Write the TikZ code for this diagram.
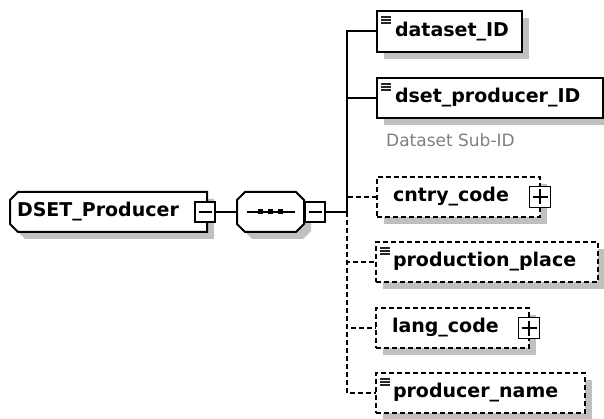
\documentclass[tikz,border=0pt]{standalone}
\usepackage{fontspec}
\setmainfont{DejaVu Sans}
\usepackage{xcolor}
\usepackage{tikz}
\usetikzlibrary{positioning,shadows,backgrounds}

\definecolor{shadowgray}{RGB}{192,192,192}
\definecolor{notegray}{RGB}{128,128,128}

% outline with cut corners: node, left cut, right cut
\newcommand{\tagoutline}[3]{%
  ([xshift=#2]#1.north west) -- ([xshift=-#3]#1.north east)
  -- ([yshift=-#3]#1.north east) -- ([yshift=#3]#1.south east)
  -- ([xshift=-#3]#1.south east) -- ([xshift=#2]#1.south west)
  -- ([yshift=#2]#1.south west) -- ([yshift=-#2]#1.north west) -- cycle}

\tikzset{
  boxshadow/.style={drop shadow={shadow xshift=7pt, shadow yshift=-7pt,
    fill=shadowgray, opacity=1}},
  elem/.style={draw, fill=white, line width=2pt, minimum height=40pt,
    inner ysep=0pt, align=left, anchor=west, outer sep=0pt,
    font=\fontsize{19}{22}\selectfont\bfseries, boxshadow},
  optelem/.style={elem, line width=1.7pt, dash pattern=on 5pt off 3pt},
  tagnode/.style={minimum height=40pt, inner ysep=0pt, align=left, anchor=west,
    outer sep=0pt, font=\fontsize{19}{22}\selectfont\bfseries},
  tagline/.style={draw, fill=white, line width=2pt, boxshadow},
  ctrlbox/.style={draw, fill=white, line width=1.8pt, minimum size=20pt, inner sep=0pt},
  minusbox/.style={ctrlbox,
    path picture={\draw[line width=1.4pt] ([xshift=3.5pt]path picture bounding box.west)
      -- ([xshift=-3.5pt]path picture bounding box.east);}},
  plusbox/.style={ctrlbox, minimum size=21pt,
    path picture={\draw[line width=1.4pt] ([xshift=3pt]path picture bounding box.west)
      -- ([xshift=-3pt]path picture bounding box.east);
      \draw[line width=1.4pt] ([yshift=-3pt]path picture bounding box.north)
      -- ([yshift=3pt]path picture bounding box.south);}},
  link/.style={line width=2pt},
  optlink/.style={line width=1.7pt, dash pattern=on 5pt off 3pt},
  iconline/.style={line width=1.2pt, black!85},
  note/.style={anchor=west, inner sep=0pt, text=notegray,
    font=\fontsize{17}{20}\selectfont}
}

\begin{document}
\begin{tikzpicture}[x=1pt,y=-1pt]
  \useasboundingbox (0,0) rectangle (604,419);

  % root element and sequence compositor
  \node[tagnode, inner xsep=7pt, text width=183pt] (producer) at (10,212) {DSET\_Producer};
  \node[tagnode, minimum width=67pt, inner xsep=0pt] (seq) at (237,212) {};
  \begin{scope}[on background layer]
    \path[tagline] \tagoutline{producer}{8pt}{0pt};
    \path[tagline] \tagoutline{seq}{8pt}{8pt};
  \end{scope}
  \node[minusbox] (producerminus) at (205,212) {};
  \node[minusbox] (seqminus) at (315,212) {};
  \draw[link] (seq.center) +(-24,0) -- +(24,0);
  \foreach \dx in {-10,0,10}
    \fill ([xshift=\dx pt]seq.center) +(-2.5,-2.5) rectangle +(2.5,2.5);

  % child elements
  \coordinate (trunk) at (347,212);
  \node[elem, inner xsep=18pt, text width=109pt, minimum height=41pt] (datasetid) at (377,31.5) {dataset\_ID};
  \node[elem, inner xsep=18pt, text width=190pt] (producerid) at (377,98) {dset\_producer\_ID};
  \node[note] (subid) at (386,140) {Dataset Sub-ID};
  \node[optelem, inner xsep=16pt, text width=131pt] (cntry) at (377,197) {cntry\_code};
  \node[optelem, inner xsep=17pt, text width=188pt] (place) at (376,262) {production\_place};
  \node[optelem, inner xsep=16pt, text width=121pt] (lang) at (376,328) {lang\_code};
  \node[optelem, inner xsep=17pt, text width=175pt] (pname) at (376,393) {producer\_name};
  \node[plusbox] (cntryplus) at (cntry.east) {};
  \node[plusbox] (langplus) at (lang.east) {};

  % simple type marks
  \foreach \c in {datasetid,producerid,place,pname}
    \foreach \dy in {6,9,12}
      \draw[iconline] ([shift={(4,\dy)}]\c.north west) -- ++(10,0);

  % connectors
  \draw[link] (producerminus.east) -- (seq.west);
  \draw[link] (seqminus.east) -- (trunk);
  \foreach \c in {cntry,place,lang,pname}
    \draw[optlink] (trunk) |- (\c.west);
  \foreach \c in {datasetid,producerid}
    \draw[link] (trunk) |- (\c.west);
\end{tikzpicture}
\end{document}
